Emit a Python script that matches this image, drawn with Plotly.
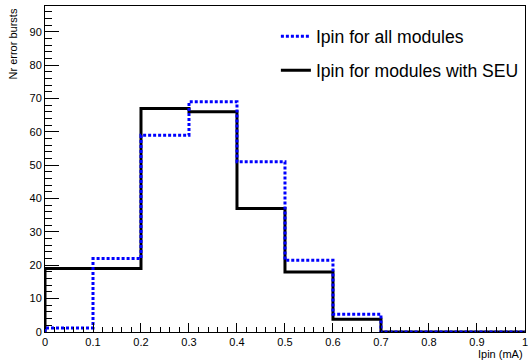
import plotly.graph_objects as go

# Data
bin_edges = [0.0, 0.1, 0.2, 0.3, 0.4, 0.5, 0.6, 0.7, 0.8, 0.9, 1.0]
all_modules = [1.2, 22, 59, 69, 51, 21.5, 5.3, 0, 0, 0]
seu_modules = [19, 19, 67, 66, 37, 18, 3.8, 0, 0, 0]
x_tick_vals = [0, 0.1, 0.2, 0.3, 0.4, 0.5, 0.6, 0.7, 0.8, 0.9, 1.0]
x_tick_text = ["0", "0.1", "0.2", "0.3", "0.4", "0.5", "0.6", "0.7", "0.8", "0.9", "1"]
name_all = "Ipin for all modules"
name_seu = "Ipin for modules with SEU"
x_title = "Ipin (mA)"
y_title = "Nr error bursts"

def step_xy(edges, vals):
    xs = [edges[0]] + list(edges)
    ys = [0] + list(vals) + [vals[-1]]
    return xs, ys

FONT = "Liberation Sans, Arial, sans-serif"

fig = go.Figure()
xs, ys = step_xy(bin_edges, seu_modules)
fig.add_trace(go.Scatter(x=xs, y=ys, mode="lines", line_shape="hv",
                         line=dict(color="black", width=3),
                         name=name_seu, legendgroup="b", legendrank=2))
xs, ys = step_xy(bin_edges, all_modules)
fig.add_trace(go.Scatter(x=xs, y=ys, mode="lines", line_shape="hv",
                         line=dict(color="#0000ff", width=3, dash="3px,2px"),
                         name=name_all, legendgroup="a", legendrank=1))

fig.update_layout(
    width=528, height=361,
    margin=dict(l=45, r=3, t=6, b=29, autoexpand=False),
    paper_bgcolor="white", plot_bgcolor="white",
    font=dict(family=FONT, size=11, color="black"),
    showlegend=True,
    legend=dict(x=0.481, y=0.962, xanchor="left", yanchor="top",
                bgcolor="rgba(0,0,0,0)", borderwidth=0,
                font=dict(family=FONT, size=17.6, color="black"),
                tracegroupgap=8, traceorder="grouped"),
    xaxis=dict(range=[0, 1.0001], showgrid=False, zeroline=False, automargin=False,
               showline=True, linecolor="black", linewidth=1, mirror=True,
               ticks="inside", ticklen=9, tickcolor="black",
               tickmode="array", tickvals=x_tick_vals, ticktext=x_tick_text,
               ticklabeloverflow="allow",
               minor=dict(dtick=0.02, tick0=0, ticks="inside", ticklen=5, tickcolor="black"),
               tickfont=dict(family=FONT, size=11)),
    yaxis=dict(range=[0, 97.7], showgrid=False, zeroline=False, automargin=False,
               showline=True, linecolor="black", linewidth=1, mirror=True,
               ticks="inside", ticklen=14, tickcolor="black", dtick=10,
               minor=dict(dtick=2, ticks="inside", ticklen=7, tickcolor="black"),
               tickfont=dict(family=FONT, size=11)),
    annotations=[
        dict(text=x_title, xref="paper", yref="paper", x=1, y=0,
             xanchor="right", yanchor="top", yshift=-14, showarrow=False,
             font=dict(family=FONT, size=11)),
        dict(text=y_title, xref="paper", yref="paper", x=0, y=1,
             xanchor="center", yanchor="top", xshift=-33, yshift=-1,
             textangle=-90, showarrow=False, font=dict(family=FONT, size=11)),
    ],
)

fig.write_html("out.html", config={"displayModeBar": False},
               post_script="document.body.style.margin='0';")
